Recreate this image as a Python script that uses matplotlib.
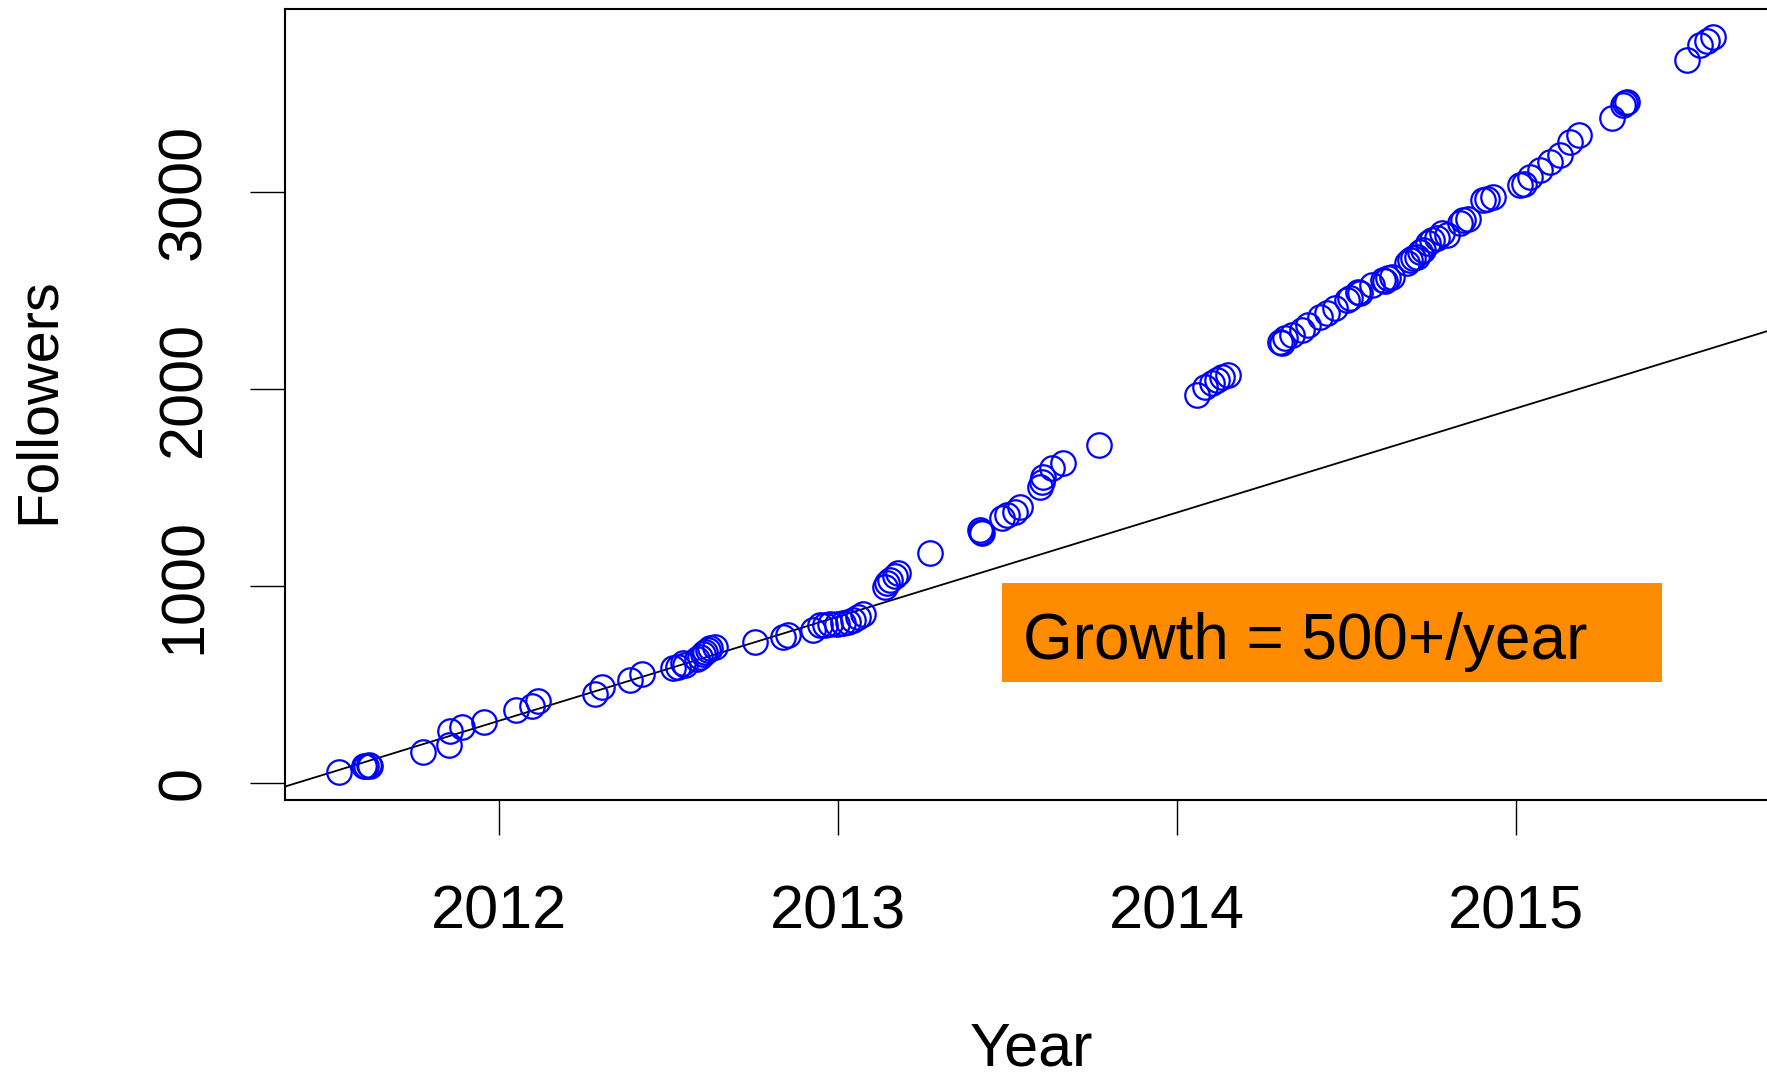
import matplotlib
matplotlib.use("Agg")
import matplotlib.pyplot as plt
from matplotlib.patches import Rectangle

# Follower counts over time (decimal year, followers)
years = [
    2011.528, 2011.600, 2011.608, 2011.615, 2011.620, 2011.776, 2011.852, 2011.854,
    2011.889, 2011.956, 2012.050, 2012.096, 2012.115, 2012.283, 2012.303, 2012.386,
    2012.420, 2012.514, 2012.529, 2012.543, 2012.548, 2012.583, 2012.593, 2012.600,
    2012.607, 2012.615, 2012.622, 2012.637, 2012.755, 2012.838, 2012.853, 2012.927,
    2012.947, 2012.961, 2012.976, 2012.996, 2013.016, 2013.030, 2013.045, 2013.060,
    2013.075, 2013.139, 2013.145, 2013.153, 2013.168, 2013.178, 2013.271, 2013.419,
    2013.422, 2013.424, 2013.483, 2013.498, 2013.522, 2013.537, 2013.596, 2013.601,
    2013.606, 2013.631, 2013.665, 2013.770, 2014.059, 2014.083, 2014.102, 2014.117,
    2014.132, 2014.152, 2014.304, 2014.310, 2014.319, 2014.339, 2014.368, 2014.388,
    2014.422, 2014.442, 2014.466, 2014.501, 2014.511, 2014.535, 2014.540, 2014.575,
    2014.609, 2014.615, 2014.624, 2014.634, 2014.678, 2014.688, 2014.698, 2014.708,
    2014.718, 2014.727, 2014.742, 2014.752, 2014.767, 2014.781, 2014.796, 2014.835,
    2014.845, 2014.860, 2014.904, 2014.915, 2014.934, 2015.013, 2015.025, 2015.042,
    2015.072, 2015.101, 2015.131, 2015.160, 2015.185, 2015.283, 2015.317, 2015.322,
    2015.327, 2015.506, 2015.544, 2015.563, 2015.583,
]
followers = [
    57, 86, 88, 90, 86, 160, 194, 265,
    287, 312, 371, 391, 418, 452, 489, 523,
    554, 583, 591, 608, 599, 630, 642, 655,
    667, 675, 684, 693, 718, 743, 751, 777,
    802, 802, 807, 807, 811, 819, 827, 845,
    857, 997, 1015, 1030, 1051, 1064, 1169, 1284,
    1275, 1267, 1343, 1360, 1377, 1402, 1503, 1529,
    1554, 1597, 1622, 1715, 1968, 2011, 2027, 2045,
    2058, 2070, 2239, 2230, 2256, 2273, 2298, 2323,
    2366, 2383, 2408, 2450, 2459, 2493, 2484, 2526,
    2551, 2545, 2560, 2569, 2636, 2653, 2661, 2670,
    2695, 2704, 2738, 2754, 2763, 2789, 2780, 2840,
    2856, 2862, 2957, 2965, 2974, 3033, 3040, 3075,
    3109, 3151, 3186, 3253, 3287, 3371, 3439, 3447,
    3456, 3667, 3743, 3763, 3782,
]

# Early linear trend: followers = slope * (year - year0)
trend_slope = 528.0
trend_year0 = 2011.4

x_ticks = [2012, 2013, 2014, 2015]
y_ticks = [0, 1000, 2000, 3000]
annotation = "Growth = 500+/year"

W, H = 1767, 1077
fig = plt.figure(figsize=(W / 100, H / 100), dpi=100)
plt.rcParams["font.family"] = ["Liberation Sans", "DejaVu Sans"]

left_px, right_px, top_px, bottom_px = 285, 1770, 9, 800
ax = fig.add_axes([left_px / W, 1 - bottom_px / H,
                   (right_px - left_px) / W, (bottom_px - top_px) / H])

ax.plot(years, followers, linestyle="none", marker="o", markersize=17.6,
        markerfacecolor="none", markeredgecolor="#0000FF", markeredgewidth=1.6,
        clip_on=False, zorder=3)

ax.set_xlim(2011.368, 2015.75)
ax.set_ylim(-85, 3926)

ax.axline((trend_year0, 0), slope=trend_slope, color="black", linewidth=1.3, zorder=2)

ax.set_xticks(x_ticks)
ax.set_xticklabels([str(v) for v in x_ticks])
ax.set_yticks(y_ticks)
ax.set_yticklabels([str(v) for v in y_ticks])
ax.tick_params(axis="both", direction="out", length=25.5, width=1.0,
               labelsize=44, color="black")
ax.tick_params(axis="x", pad=35)
ax.tick_params(axis="y", pad=26)
for lab in ax.get_yticklabels():
    lab.set_rotation(90)
    lab.set_verticalalignment("center")

for sp in ax.spines.values():
    sp.set_linewidth(1.5)
    sp.set_color("black")

# Annotation box
ax.add_patch(Rectangle((0.4828, 0.1492), 0.4445, 0.1251, transform=ax.transAxes,
                       facecolor="#FF8C00", edgecolor="none", zorder=1))
ax.text(0.497, 0.178, annotation, transform=ax.transAxes, fontsize=46,
        ha="left", va="baseline", color="black", zorder=4)

fig.text(1031 / W, 1 - 1066 / H, "Year", fontsize=44, ha="center", va="baseline")
fig.text(38.5 / W, 1 - 401 / H, "Followers", fontsize=41.5, rotation=90,
         ha="center", va="center")

fig.savefig("out.png", dpi=100, facecolor="white")
